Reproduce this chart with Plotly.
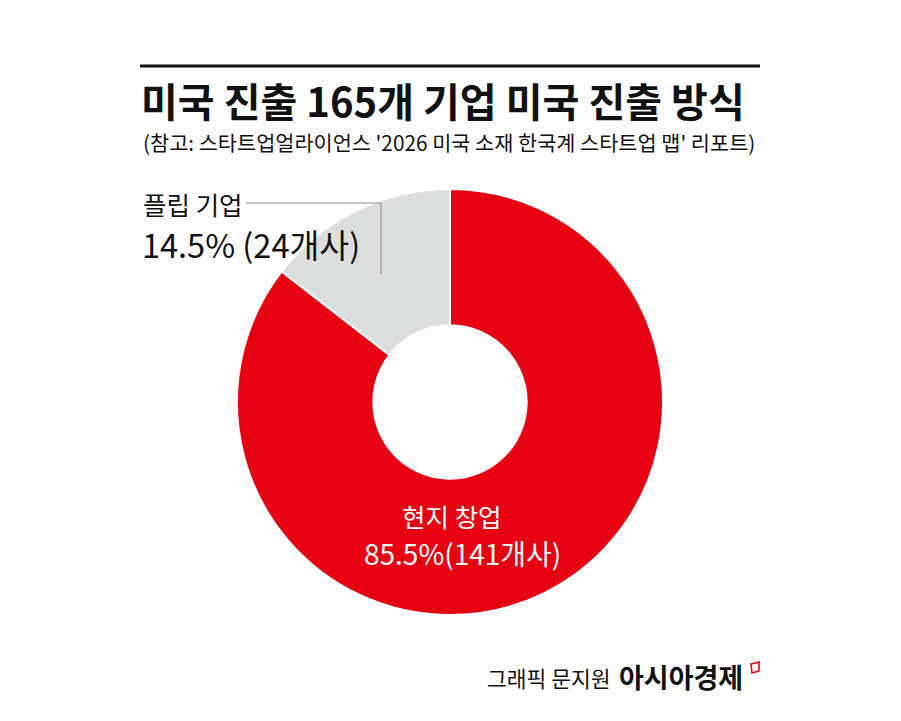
import plotly.graph_objects as go

W, H = 901, 721

labels = ["현지 창업", "플립 기업"]
shares = [85.5, 14.5]
counts = [141, 24]
colors = ["#e60012", "#dcdddd"]

title = "미국 진출 165개 기업 미국 진출 방식"
subtitle = "(참고: 스타트업얼라이언스 '2026 미국 소재 한국계 스타트업 맵' 리포트)"
credit = "그래픽 문지원"
brand = "아시아경제"

FONT = "Noto Sans CJK KR"
OFF = 8  # page body margin


def px(x):
    return (x - OFF) / W


def py(y):
    return 1 - (y - OFF) / H


cx, cy, r = 450, 402, 213

fig = go.Figure(go.Pie(
    labels=labels,
    values=shares,
    marker=dict(colors=colors, line=dict(color="white", width=2)),
    hole=0.36,
    sort=False,
    direction="clockwise",
    rotation=0,
    textinfo="none",
    hoverinfo="label+percent",
    domain=dict(x=[px(cx - r), px(cx + r)], y=[py(cy + r), py(cy - r)]),
    showlegend=False,
))

ann = []
ann.append(dict(x=px(139), y=py(100), xref="paper", yref="paper", xanchor="left", yanchor="middle",
                text="<b>" + title + "</b>", showarrow=False,
                font=dict(family=FONT, size=40, color="#111111")))
ann.append(dict(x=px(141), y=py(142), xref="paper", yref="paper", xanchor="left", yanchor="middle",
                text=subtitle, showarrow=False,
                font=dict(family=FONT, size=20.8, color="#111111")))
ann.append(dict(x=px(141), y=py(203), xref="paper", yref="paper", xanchor="left", yanchor="middle",
                text=labels[1], showarrow=False,
                font=dict(family=FONT, size=25.5, color="#111111")))
ann.append(dict(x=px(140), y=py(243), xref="paper", yref="paper", xanchor="left", yanchor="middle",
                text=f"{shares[1]}% ({counts[1]}개사)", showarrow=False,
                font=dict(family=FONT, size=32.5, color="#111111")))
ann.append(dict(x=px(452), y=py(515), xref="paper", yref="paper", xanchor="center", yanchor="middle",
                text=labels[0], showarrow=False, borderpad=0,
                font=dict(family=FONT, size=25.5, color="white")))
ann.append(dict(x=px(462), y=py(553), xref="paper", yref="paper", xanchor="center", yanchor="middle",
                text=f"{shares[0]}%({counts[0]}개사)", showarrow=False, borderpad=0,
                font=dict(family=FONT, size=28, color="white")))
ann.append(dict(x=px(613), y=py(677), xref="paper", yref="paper", xanchor="right", yanchor="middle",
                text=credit, showarrow=False,
                font=dict(family=FONT, size=21.5, color="#111111")))
ann.append(dict(x=px(617), y=py(676), xref="paper", yref="paper", xanchor="left", yanchor="middle",
                text="<b>" + brand + "</b>", showarrow=False,
                font=dict(family=FONT, size=27, color="#111111")))

shapes = [
    dict(type="line", xref="paper", yref="paper", x0=px(140), x1=px(760), y0=py(66), y1=py(66),
         line=dict(color="#111111", width=3)),
    dict(type="path", xref="paper", yref="paper",
         path=f"M {px(246)} {py(203)} L {px(381)} {py(203)} L {px(381)} {py(274)}",
         line=dict(color="#888888", width=1)),
    dict(type="path", xref="paper", yref="paper",
         path=f"M {px(751)} {py(664)} L {px(759)} {py(662)} L {px(759)} {py(671)} L {px(752)} {py(673)} Z",
         line=dict(color="#e60012", width=1.6)),
]

fig.update_layout(
    width=W, height=H,
    margin=dict(l=0, r=0, t=0, b=0),
    paper_bgcolor="white", plot_bgcolor="white",
    annotations=ann, shapes=shapes,
    font=dict(family=FONT),
)

fig.write_html("out.html")
